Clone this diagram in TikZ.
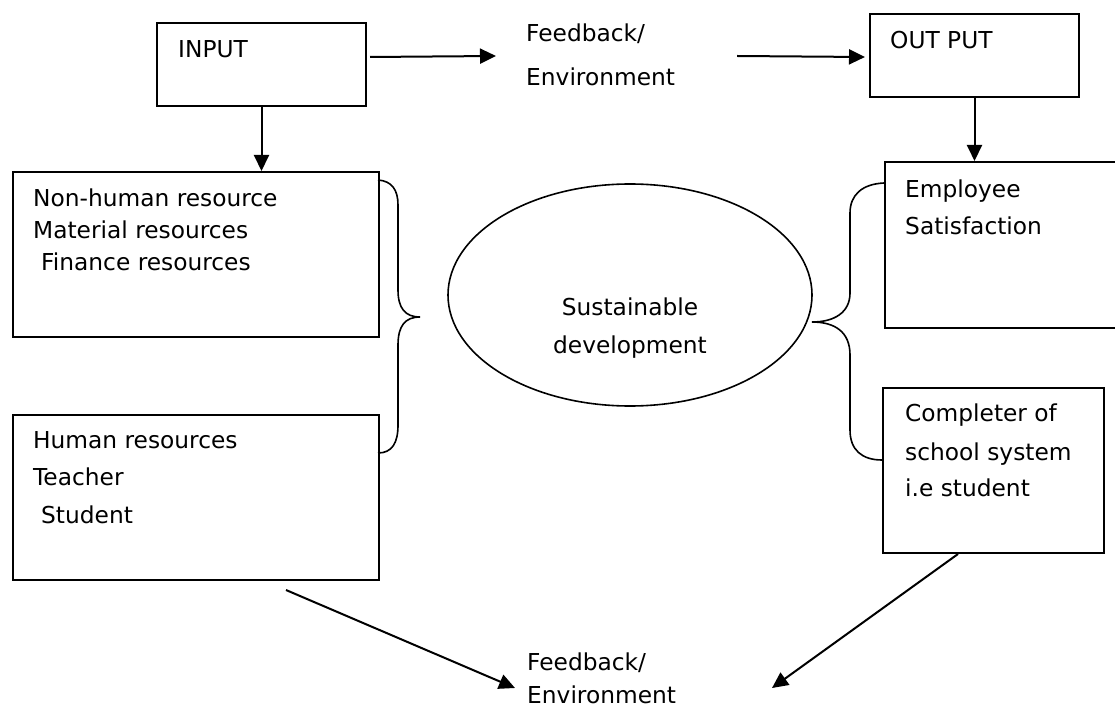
\documentclass[tikz,border=0pt]{standalone}
\usepackage{fontspec}
\setmainfont{DejaVu Sans}
\usetikzlibrary{arrows.meta,calc,shapes.geometric}
\begin{document}
\begin{tikzpicture}[x=1pt,y=-1pt,
  box/.style={draw,line width=2pt,rectangle,anchor=north west,inner sep=0pt},
  txt/.style={anchor=base west,inner sep=0pt,font=\fontsize{23.3}{28}\selectfont},
  ctxt/.style={anchor=base,inner sep=0pt,font=\fontsize{23.3}{28}\selectfont},
  arr/.style={line width=2pt,-{Triangle[length=16pt,width=15pt]}},
  bracel/.style={line width=1.6pt}]
\clip (0,0) rectangle (1115,708);
\fill[white] (0,0) rectangle (1115,708);

% boxes
\node[box,minimum width=209pt,minimum height=83pt] (input) at (156,22) {};
\node[box,minimum width=209pt,minimum height=83pt] (output) at (869,13) {};
\node[box,minimum width=366pt,minimum height=165pt] (nonhuman) at (12,171) {};
\node[box,minimum width=366pt,minimum height=165pt] (human) at (12,414) {};
\node[box,minimum width=240pt,minimum height=166pt] (employee) at (884,161) {};
\node[box,minimum width=221pt,minimum height=165pt] (completer) at (882,387) {};
\node[draw,ellipse,line width=1.6pt,minimum width=364pt,minimum height=222pt,inner sep=0pt] (sd) at (630,295) {};

% texts
\node[txt] (tin) at (178,58) {INPUT};
\node[txt] (tout) at (890,49) {OUT PUT};
\node[txt] (fb1a) at (526,42) {Feedback/};
\node[txt] (fb1b) at (526,86) {Environment};
\node[txt] (nh1) at (33,207) {Non-human resource};
\node[txt] (nh2) at (33,239) {Material resources};
\node[txt] (nh3) at (41,271) {Finance resources};
\node[txt] (hu1) at (33,448) {Human resources};
\node[txt] (hu2) at (33,485) {Teacher};
\node[txt] (hu3) at (41,523) {Student};
\node[txt] (em1) at (905,198) {Employee};
\node[txt] (em2) at (905,235) {Satisfaction};
\node[txt] (co1) at (905,421) {Completer of};
\node[txt] (co2) at (905,460) {school system};
\node[txt] (co3) at (905,496) {i.e student};
\node[ctxt] (sd1) at (630,315) {Sustainable};
\node[ctxt] (sd2) at (630,353) {development};
\node[txt] (fb2a) at (527,670) {Feedback/};
\node[txt] (fb2b) at (527,703) {Environment};

% arrows
\draw[arr] ($(input.east)+(3,-7.5)$) -- ($(fb1a.base west)+(-30,14)$);
\draw[arr] ($(fb1b.base west)+(211,-30)$) -- ($(output.west)+(-4,1.5)$);
\draw[arr] (input.south) -- (input.south |- nonhuman.north);
\draw[arr] (output.south) -- (output.south |- employee.north);
\draw[arr] ($(human.south west)+(274,9)$) -- ($(fb2b.base west)+(-12,-15)$);
\draw[arr] ($(completer.south)+(-35.5,0)$) -- ($(fb2b.base west)+(245,-15)$);

% left brace
\draw[bracel] (378,180) .. controls (392,181) and (398,190) .. (398,205)
  -- (398,290) .. controls (398,308) and (405,317) .. (420,317)
  .. controls (405,317) and (398,326) .. (398,345)
  -- (398,425) .. controls (398,443) and (392,453) .. (378,453);
% right brace
\draw[bracel] (884,183) .. controls (862,184) and (850,195) .. (850,213)
  -- (850,293) .. controls (850,312) and (835,322) .. (812,322)
  .. controls (835,322) and (850,332) .. (850,355)
  -- (850,430) .. controls (850,450) and (862,460) .. (882,460);
\end{tikzpicture}
\end{document}
